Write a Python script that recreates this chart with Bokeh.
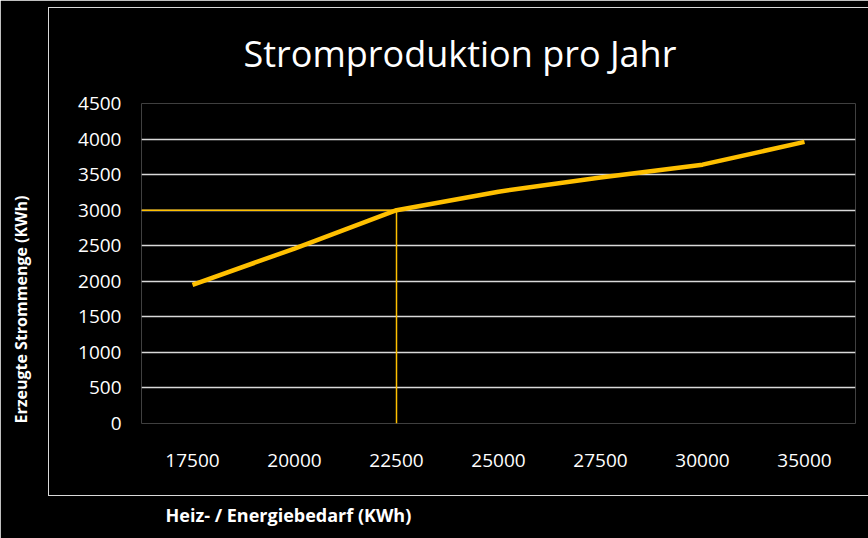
from bokeh.plotting import figure
from bokeh.models import Range1d, Title, InlineStyleSheet
from bokeh.embed import file_html
from bokeh.resources import INLINE

# ---- data ----
categories = ["17500", "20000", "22500", "25000", "27500", "30000", "35000"]
values = [1950, 2460, 3000, 3260, 3460, 3640, 3960]
highlight_index = 2
highlight_y = 3000
y_ticks = [0, 500, 1000, 1500, 2000, 2500, 3000, 3500, 4000, 4500]

title_text = "Stromproduktion pro Jahr"
x_title = "Heiz- / Energiebedarf (KWh)"
y_title = "Erzeugte Strommenge (KWh)"

GOLD = "#FFC000"
GRID = "#D9D9D9"
FONT = "Open Sans"

xs = list(range(len(categories)))
x_range = Range1d(-0.5, len(categories) - 0.5)

p = figure(x_range=x_range, y_range=Range1d(0, 4500), width=868, height=538,
           output_backend="svg", toolbar_location=None,
           min_border_left=141, min_border_right=13, min_border_top=103, min_border_bottom=115)
p.background_fill_color = "black"
p.border_fill_color = "black"
p.outline_line_color = None

p.title = Title(text=title_text, align="left", offset=102, standoff=51,
                text_color="white", text_font=FONT, text_font_size="36px",
                text_font_style="normal")

p.yaxis.ticker = y_ticks
p.xaxis.ticker = xs
p.xaxis.major_label_overrides = {i: c for i, c in zip(xs, categories)}
p.xgrid.grid_line_color = None
p.ygrid.grid_line_color = GRID
p.ygrid.grid_line_width = 1.5
for ax in (p.xaxis[0], p.yaxis[0]):
    ax.axis_line_color = None
    ax.major_tick_line_color = None
    ax.minor_tick_line_color = None
    ax.major_tick_out = 0
    ax.major_tick_in = 0
    ax.minor_tick_out = 0
    ax.major_label_text_color = "white"
    ax.major_label_text_font = FONT
    ax.major_label_text_font_size = "19px"
p.yaxis.major_label_standoff = 20
p.xaxis.major_label_standoff = 30

# axis titles as side titles; blank lines push the visible line to the outer edge
p.add_layout(Title(text=y_title + "\n\n", align="left", offset=0, standoff=0,
                   text_color="white", text_font=FONT, text_font_size="16px",
                   text_font_style="bold"), "left")
p.add_layout(Title(text="\n" + x_title, align="left", offset=24, standoff=14,
                   text_color="white", text_font=FONT, text_font_size="18px",
                   text_font_style="bold"), "below")

# reference lines at the highlighted point
p.segment(x0=[x_range.start], y0=[highlight_y], x1=[xs[highlight_index]], y1=[highlight_y],
          line_color=GOLD, line_width=1.5)
p.segment(x0=[xs[highlight_index]], y0=[0], x1=[xs[highlight_index]], y1=[highlight_y],
          line_color=GOLD, line_width=1.5)

p.line(xs, values, line_color=GOLD, line_width=4.5)

# outer frame box (decoration)
p.stylesheets = [InlineStyleSheet(css="""
:host { position: relative; }
:host::after {
  content: ""; position: absolute; left: 48px; right: 0px; top: 7px; height: 487px;
  border: 1.5px solid #D9D9D9; border-right: none; pointer-events: none;
}
""")]

open("out.html", "w").write(file_html(p, INLINE))
